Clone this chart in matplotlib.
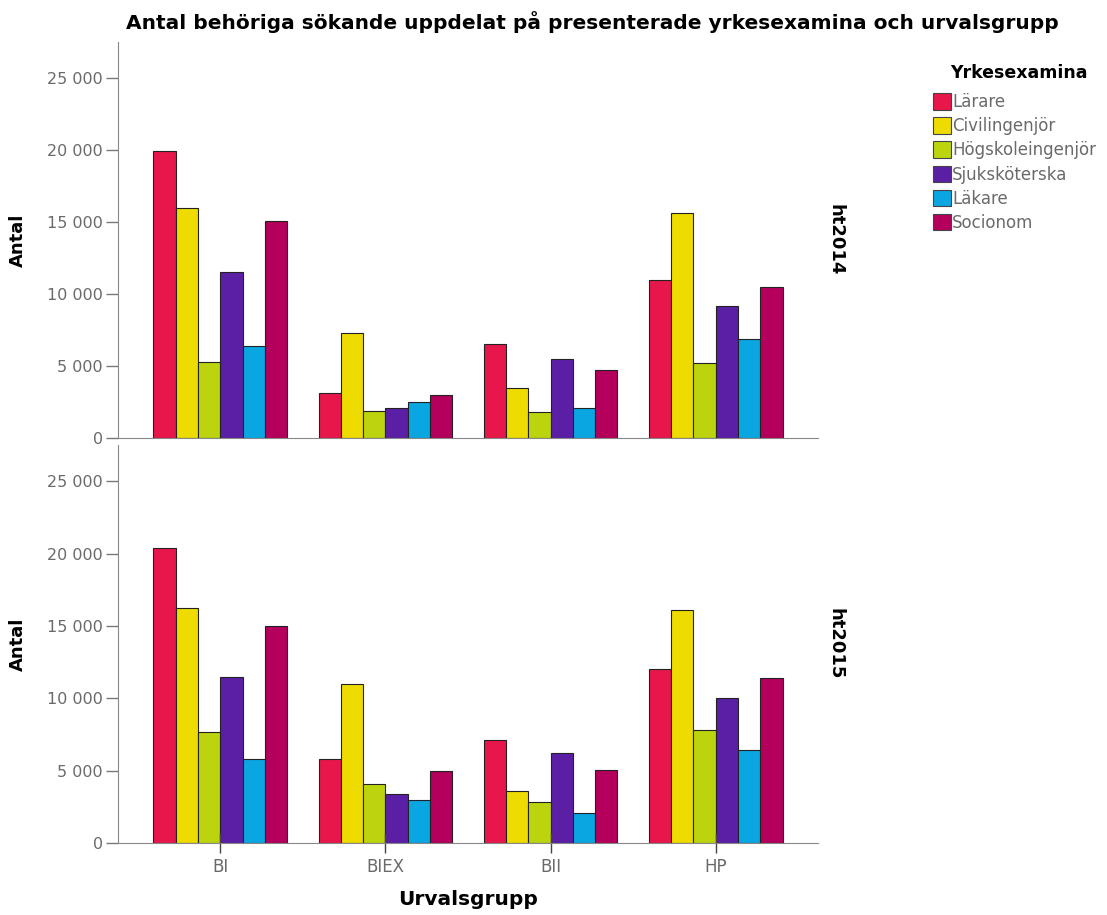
import matplotlib
matplotlib.use("Agg")
import matplotlib.pyplot as plt
from matplotlib.patches import Patch
from matplotlib.ticker import FuncFormatter
import numpy as np

plt.rcParams['font.family'] = ['DejaVu Sans']

groups = ["BI", "BIEX", "BII", "HP"]
exams = ["Lärare", "Civilingenjör", "Högskoleingenjör", "Sjuksköterska", "Läkare", "Socionom"]
colors = ["#e8174b", "#eedc00", "#bcd40e", "#5b1fa6", "#0aa6e2", "#b4005c"]

# values per exam, order BI, BIEX, BII, HP
ht2014 = {
    "Lärare":           [19900, 3100, 6500, 11000],
    "Civilingenjör":    [16000, 7300, 3500, 15600],
    "Högskoleingenjör": [5300, 1900, 1800, 5200],
    "Sjuksköterska":    [11500, 2100, 5500, 9200],
    "Läkare":           [6400, 2500, 2100, 6900],
    "Socionom":         [15100, 3000, 4700, 10500],
}
ht2015 = {
    "Lärare":           [20400, 5800, 7100, 12000],
    "Civilingenjör":    [16250, 11000, 3600, 16100],
    "Högskoleingenjör": [7700, 4100, 2800, 7800],
    "Sjuksköterska":    [11500, 3400, 6200, 10000],
    "Läkare":           [5800, 3000, 2100, 6400],
    "Socionom":         [15000, 4950, 5050, 11400],
}
panels = [("ht2014", ht2014), ("ht2015", ht2015)]

W, H = 1107, 915
fig = plt.figure(figsize=(W / 100, H / 100), dpi=100)

def px_axes(left, top, right, bottom):
    return fig.add_axes([left / W, 1 - bottom / H, (right - left) / W, (bottom - top) / H])

gray = "#6a6a6a"
fmt = FuncFormatter(lambda v, p: f"{int(v):,}".replace(",", " "))
x = np.arange(len(groups))
bw = 0.135

boxes = [(118, 42, 818, 438), (118, 445, 818, 843)]
for i, ((name, data), box) in enumerate(zip(panels, boxes)):
    ax = px_axes(*box)
    for j, ex in enumerate(exams):
        ax.bar(x + (j - 2.5) * bw, data[ex], width=bw, color=colors[j],
               edgecolor="#222222", linewidth=0.8)
    ax.set_xlim(-0.62, 3.62)
    ax.set_ylim(0, 27500)
    ax.set_yticks(range(0, 25001, 5000))
    ax.yaxis.set_major_formatter(fmt)
    for s in ["top", "right"]:
        ax.spines[s].set_visible(False)
    for s in ["left", "bottom"]:
        ax.spines[s].set_color("#888888")
    ax.tick_params(axis="y", colors="#777777", labelcolor=gray, labelsize=11.5,
                   length=9, width=1, pad=2)
    ax.set_ylabel("Antal", fontsize=13, fontweight="bold", labelpad=14)
    ax.text(1.012, 0.5, name, transform=ax.transAxes, rotation=270, fontsize=13,
            fontweight="bold", va="center", ha="left")
    if i == 0:
        ax.set_xticks([])
    else:
        ax.set_xticks(x)
        ax.set_xticklabels(groups)
        ax.tick_params(axis="x", colors="#444444", labelcolor=gray, labelsize=12,
                       direction="inout", length=14, width=1, pad=4)
        ax.set_xlabel("Urvalsgrupp", fontsize=14.5, fontweight="bold", labelpad=10)

fig.text(592 / W, 1 - 22 / H, "Antal behöriga sökande uppdelat på presenterade yrkesexamina och urvalsgrupp",
         ha="center", va="center", fontsize=14.5, fontweight="bold")

# legend with title placed separately
fig.text(1019 / W, 1 - 73 / H, "Yrkesexamina", ha="center", va="center",
         fontsize=12.5, fontweight="bold")
handles = [Patch(facecolor=c, edgecolor="#444444", linewidth=0.8) for c in colors]
fig.legend(handles, exams, loc="upper left", bbox_to_anchor=(933 / W, 1 - 93 / H),
           frameon=False, fontsize=12, labelcolor=gray,
           handlelength=1.1, handleheight=1.15, handletextpad=0.05, labelspacing=0.37,
           borderpad=0, borderaxespad=0)

fig.savefig("out.png", dpi=100)
